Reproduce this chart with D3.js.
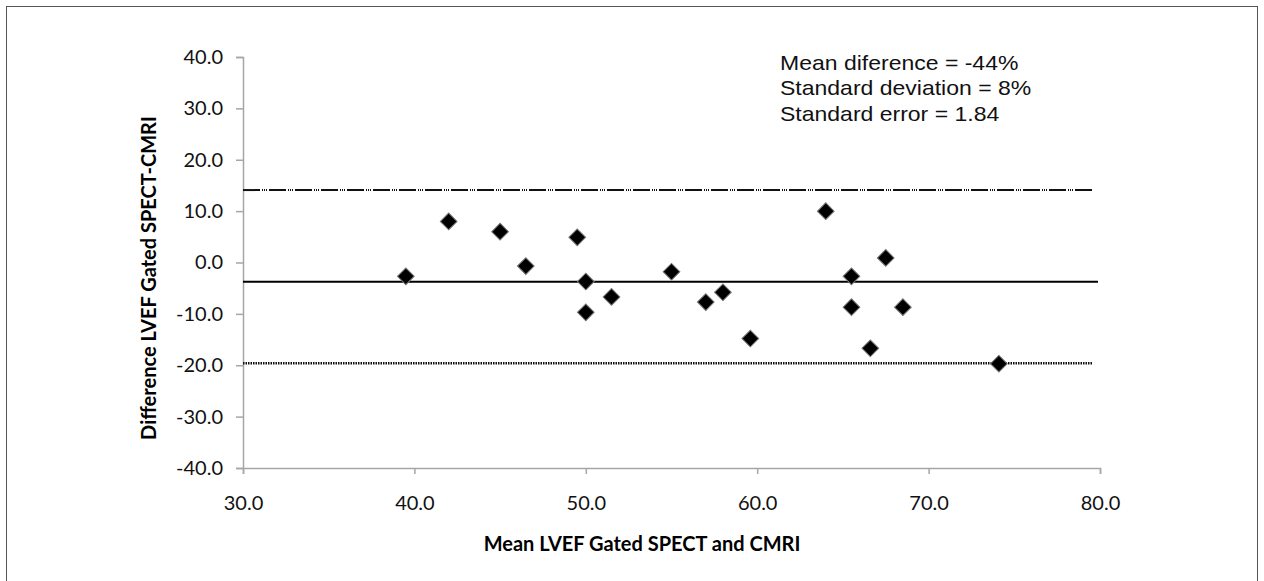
<!DOCTYPE html>
<html>
<head>
<meta charset="utf-8">
<script src="https://cdn.jsdelivr.net/npm/d3@7"></script>
<style>
  body { margin: 0; background: #fff; }
  svg { display: block; }
</style>
</head>
<body>
<div id="chart"></div>
<script>
// Bland-Altman data
const meanLVEF = [39.5, 42.0, 45.0, 46.5, 49.5, 50.0, 50.0, 51.5, 55.0, 57.0, 58.0, 59.6, 64.0, 65.5, 65.5, 66.6, 67.5, 68.5, 74.1];
const diffLVEF = [-2.7, 8.0, 6.0, -0.7, 4.9, -3.7, -9.7, -6.7, -1.8, -7.7, -5.8, -14.8, 10.0, -2.7, -8.7, -16.7, 0.9, -8.7, -19.7];
const meanDiffLine = -3.75;
const upperLimit = 14.1;
const lowerLimit = -19.6;
const xTicks = [30, 40, 50, 60, 70, 80];
const yTicks = [-40, -30, -20, -10, 0, 10, 20, 30, 40];
const statLines = ["Mean diference = -44%", "Standard deviation = 8%", "Standard error = 1.84"];

const W = 1264, H = 581;
const svg = d3.select("#chart").append("svg").attr("width", W).attr("height", H);

// outer frame
svg.append("rect")
  .attr("x", 6.5).attr("y", 6.5)
  .attr("width", 1251).attr("height", 600)
  .attr("fill", "none").attr("stroke", "#555").attr("stroke-width", 1);

const x = d3.scaleLinear().domain([30, 80]).range([243, 1100]);
const y = d3.scaleLinear().domain([-40, 40]).range([468, 57]);

const axisFont = "Lato, 'Open Sans', sans-serif";
// excel style: plain hyphen, one decimal
const fmt = d => d.toFixed(1);

const xAxis = svg.append("g")
  .attr("transform", `translate(0,${y(-40)})`)
  .call(d3.axisBottom(x).tickValues(xTicks).tickFormat(fmt).tickSize(6).tickPadding(22));
const yAxis = svg.append("g")
  .attr("transform", `translate(${x(30)},0)`)
  .call(d3.axisLeft(y).tickValues(yTicks).tickFormat(fmt).tickSize(7).tickPadding(13));

[xAxis, yAxis].forEach(a => {
  a.select(".domain").attr("stroke", "#a6a6a6").attr("stroke-width", 1.5);
  a.selectAll(".tick line").attr("stroke", "#a6a6a6").attr("stroke-width", 1.5);
  a.selectAll("text").attr("fill", "#111").style("font-family", axisFont).style("font-size", "20px");
});

const x0 = x(30), x1 = x(80);

// limits of agreement and mean difference
svg.append("line")
  .attr("x1", x0).attr("x2", x1 - 7)
  .attr("y1", y(upperLimit)).attr("y2", y(upperLimit))
  .attr("stroke", "#111").attr("stroke-width", 2)
  .attr("stroke-dasharray", "17,2,1,1,1,1,1,2");
svg.append("line")
  .attr("x1", x0).attr("x2", x1 - 7)
  .attr("y1", y(lowerLimit)).attr("y2", y(lowerLimit))
  .attr("stroke", "#111").attr("stroke-width", 2.5)
  .attr("stroke-dasharray", "1.5,1");
svg.append("line")
  .attr("x1", x0).attr("x2", x1 - 2)
  .attr("y1", y(meanDiffLine)).attr("y2", y(meanDiffLine))
  .attr("stroke", "#000").attr("stroke-width", 2);

// points
const diamond = d3.symbol().type(d3.symbolSquare).size(140);
svg.append("g").selectAll("path")
  .data(meanLVEF.map((m, i) => [m, diffLVEF[i]]))
  .join("path")
  .attr("d", diamond)
  .attr("transform", d => `translate(${x(d[0])},${y(d[1])}) rotate(45)`)
  .attr("fill", "#000")
  .attr("stroke", "#777").attr("stroke-width", 1);

// axis titles
svg.append("text")
  .attr("x", 642).attr("y", 551)
  .attr("text-anchor", "middle")
  .style("font-family", axisFont).style("font-weight", "bold").style("font-size", "20px")
  .text("Mean LVEF Gated SPECT and CMRI");
svg.append("text")
  .attr("transform", `translate(156,${(117 + 439) / 2}) rotate(-90)`)
  .attr("text-anchor", "middle")
  .style("font-family", axisFont).style("font-weight", "bold").style("font-size", "20px")
  .text("Difference LVEF Gated SPECT-CMRI");

// stats annotation (source picture is a bit stretched sideways)
svg.append("g")
  .attr("transform", "translate(780,0) scale(1.15,1)")
  .selectAll("text")
  .data(statLines)
  .join("text")
  .attr("x", 0).attr("y", (d, i) => 70 + i * 25.5)
  .style("font-family", "'Liberation Sans', Arial, sans-serif").style("font-size", "20px")
  .attr("fill", "#111")
  .text(d => d);
</script>
</body>
</html>
